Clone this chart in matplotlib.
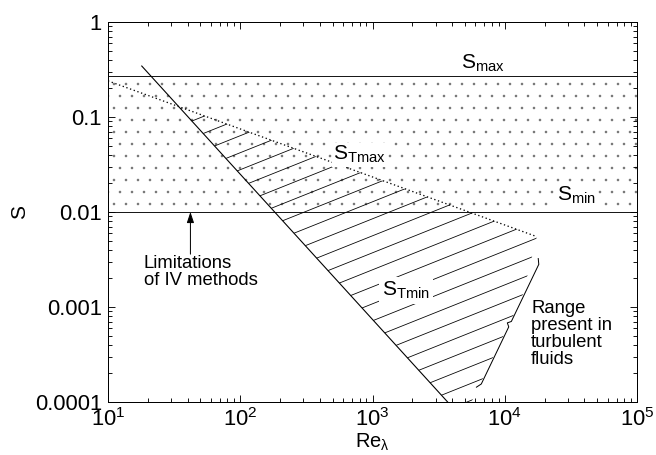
import numpy as np
import matplotlib
matplotlib.use('Agg')
from matplotlib import pyplot as plt
from matplotlib.patches import Polygon
from matplotlib.collections import LineCollection
from matplotlib.ticker import FixedLocator, FixedFormatter, LogLocator, NullFormatter

plt.rcParams.update({'font.family': 'Liberation Sans', 'mathtext.fontset': 'custom',
                     'mathtext.rm': 'Liberation Sans', 'mathtext.it': 'Liberation Sans:italic',
                     'hatch.linewidth': 0.1})

# horizontal limits of the IV band
s_max = 0.27
s_min = 0.01

# S_Tmin and S_Tmax lines (Re_lambda, S)
re_tmin = [18, 3700]
s_tmin = [0.344, 1e-4]
re_tmax = [10, 17500]
s_tmax = [0.24, 0.0055]

# right edge of the hatched range
re_edge = [17500, 13500, 5600]
s_edge = [0.0055, 0.00125, 1e-4]

# bracket ends
re_brace = [18500, 6500]
s_brace = [0.003, 1.45e-4]

# arrow for "Limitations of IV methods"
re_arrow = 42
s_arrow_tail = 0.0036

xticks = [1e1, 1e2, 1e3, 1e4, 1e5]
xticklabels = ['10$^{1}$', '10$^{2}$', '10$^{3}$', '10$^{4}$', '10$^{5}$']
yticks = [1e-4, 1e-3, 1e-2, 1e-1, 1]
yticklabels = ['0.0001', '0.001', '0.01', '0.1', '1']


def logline(xs, ys):
    lx = np.log10(xs)
    ly = np.log10(ys)
    m = (ly[1] - ly[0]) / (lx[1] - lx[0])
    return m, ly[0] - m * lx[0]


fig = plt.figure(figsize=(656 / 72, 455 / 72), dpi=72)
ax = fig.add_axes([108 / 656, 1 - 402 / 455, 529 / 656, 380 / 455])
ax.set_xscale('log')
ax.set_yscale('log')
ax.set_xlim(xticks[0], xticks[-1])
ax.set_ylim(yticks[0], yticks[-1])

# stippled band between S_min and S_max
ax.fill_between([xticks[0], xticks[-1]], s_min, s_max, facecolor='none', edgecolor='0.45',
                linewidth=0, hatch='.')
ax.axhline(s_max, color='k', lw=0.9)
ax.axhline(s_min, color='k', lw=0.9)

# S_Tmin and S_Tmax
ax.plot(re_tmin, s_tmin, color='k', lw=1.1)
ax.plot(re_tmax, s_tmax, color='k', lw=1.3, ls=(0, (1, 2)))

# hatched region between the two lines
m1, b1 = logline(re_tmin, s_tmin)
m2, b2 = logline(re_tmax, s_tmax)
lx_int = (b2 - b1) / (m1 - m2)
verts = [(10 ** lx_int, 10 ** (m1 * lx_int + b1)), (re_tmin[1], s_tmin[1])]
verts += [(re_edge[i], s_edge[i]) for i in range(len(re_edge))[::-1]]
poly = Polygon(verts, closed=True, facecolor='none', edgecolor='none')
ax.add_patch(poly)

W, H = ax.bbox.width, ax.bbox.height
slope = 0.4
step = 17
segs = []
for c in np.arange(-slope * W, H, step):
    segs.append([(0, c / H), (1, (c + slope * W) / H)])
lc = LineCollection(segs, colors='k', linewidths=0.8, transform=ax.transAxes)
ax.add_collection(lc)
lc.set_clip_path(poly)

# bracket for range in turbulent fluids (hooks and nub toward the hatched side)
p = ax.transData.transform(np.column_stack([re_brace, s_brace]))
T, B = p[0], p[1]
d = B - T
u = d / np.hypot(*d)
n = np.array([-u[1], u[0]])
if n[0] < 0:
    n = -n
M = (T + B) / 2
pts = [T - 3 * n - 2 * u, T + 3 * u, M - 3 * u, M - 3 * n, M + 3 * u, B - 3 * u, B - 3 * n + 2 * u]
pts = ax.transAxes.inverted().transform(np.array(pts))
ax.plot(pts[:, 0], pts[:, 1], color='k', lw=1.0, transform=ax.transAxes)

# labels
ax.text(6860, 0.37, r'S$_{\mathrm{max}}$', fontsize=21, ha='center', va='center')
ax.text(34600, 0.015, r'S$_{\mathrm{min}}$', fontsize=21, ha='center', va='center',
        bbox=dict(facecolor='white', edgecolor='none', pad=1))
ax.text(790, 0.04, r'S$_{\mathrm{Tmax}}$', fontsize=21, ha='center', va='center',
        bbox=dict(facecolor='white', edgecolor='none', pad=1))
ax.text(1790, 0.0015, r'S$_{\mathrm{Tmin}}$', fontsize=21, ha='center', va='center',
        bbox=dict(facecolor='white', edgecolor='none', pad=3))

ax.annotate('', xy=(re_arrow, s_min), xytext=(re_arrow, s_arrow_tail),
            arrowprops=dict(arrowstyle='-|>,head_length=0.9,head_width=0.3', color='k', lw=1,
                            shrinkA=0, shrinkB=0))
ax.text(18.7, 0.0035, 'Limitations\nof IV methods', fontsize=18.5, ha='left', va='top',
        linespacing=1.0)
ax.text(15800, 0.00118, 'Range\npresent in\nturbulent\nfluids', fontsize=18.5, ha='left', va='top',
        linespacing=1.0)

# axes
ax.xaxis.set_major_locator(FixedLocator(xticks))
ax.xaxis.set_major_formatter(FixedFormatter(xticklabels))
ax.yaxis.set_major_locator(FixedLocator(yticks))
ax.yaxis.set_major_formatter(FixedFormatter(yticklabels))
ax.xaxis.set_minor_locator(LogLocator(base=10, subs=np.arange(2, 10), numticks=20))
ax.yaxis.set_minor_locator(LogLocator(base=10, subs=np.arange(2, 10), numticks=20))
ax.xaxis.set_minor_formatter(NullFormatter())
ax.yaxis.set_minor_formatter(NullFormatter())
ax.tick_params(which='both', direction='in', top=True, right=True, labelsize=22, width=0.9)
ax.tick_params(which='major', length=7, pad=6)
ax.tick_params(which='minor', length=4)
for sp in ax.spines.values():
    sp.set_linewidth(1.0)

ax.set_xlabel(r'Re$_{\mathrm{\lambda}}$', fontsize=20, labelpad=1)
ax.set_ylabel('S', fontsize=21, labelpad=6)

plt.savefig('out.png', dpi=72)
plt.close()
